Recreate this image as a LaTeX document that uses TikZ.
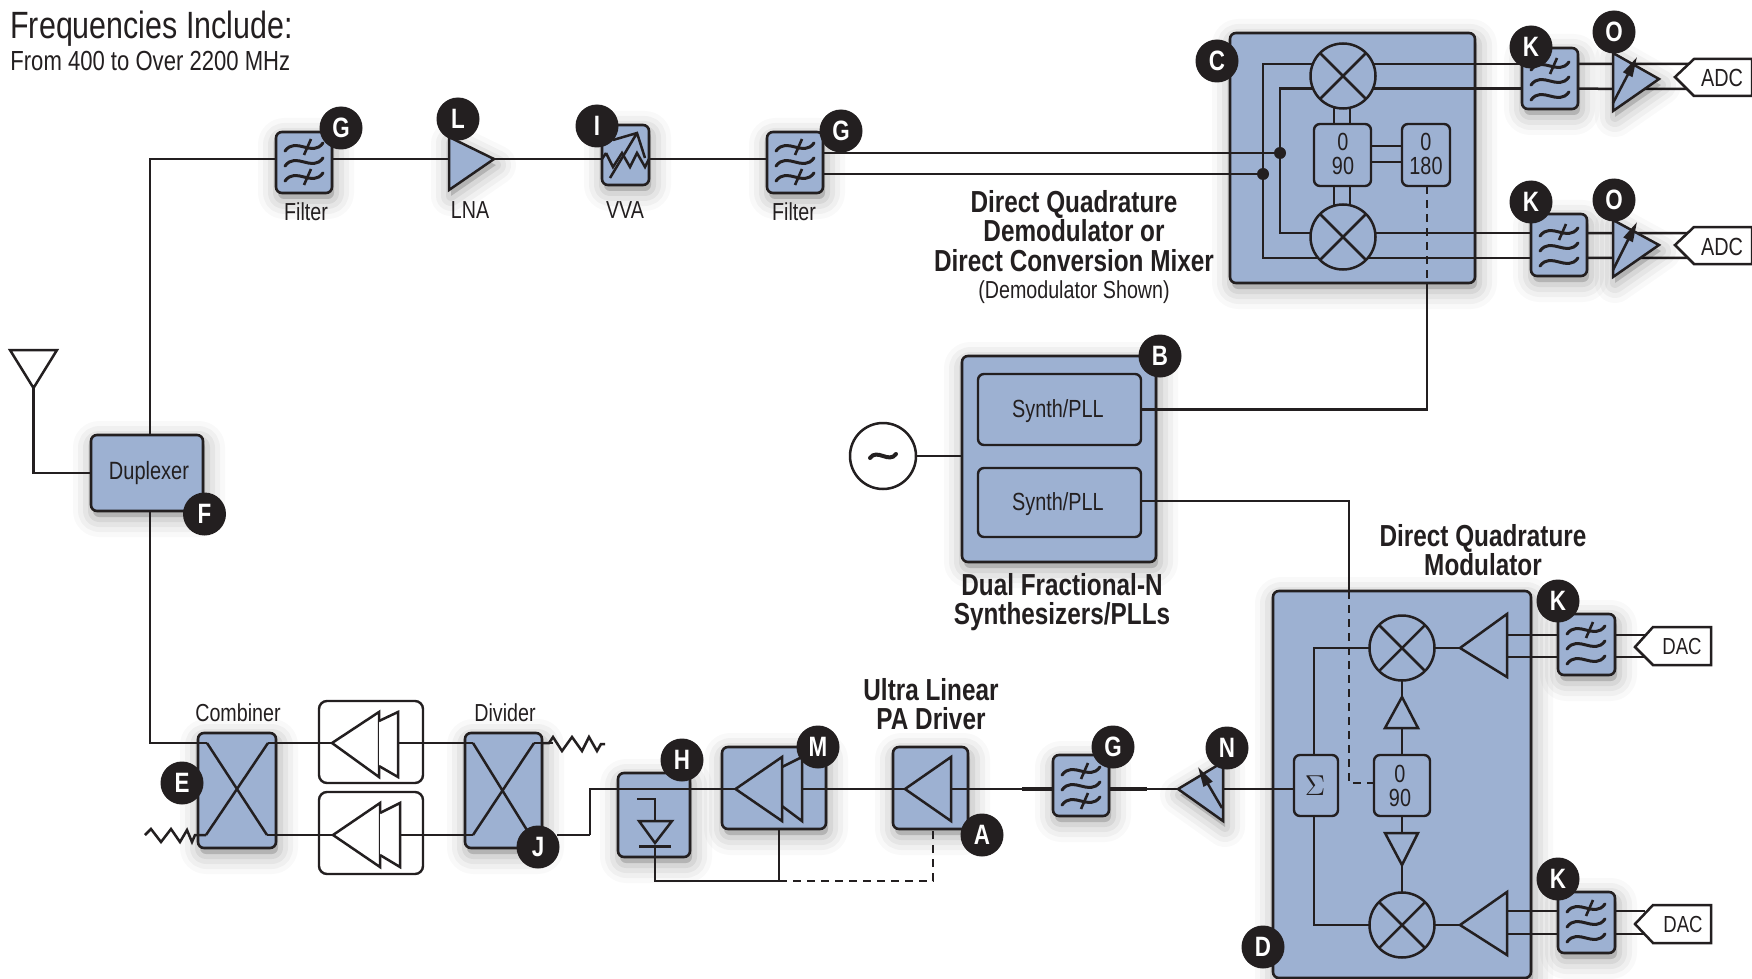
\documentclass[tikz,border=0pt]{standalone}
\usepackage{fontspec}
\usepackage{amsmath}
\setmainfont[FakeStretch=0.8]{Liberation Sans}
\usetikzlibrary{arrows.meta,calc}
\definecolor{ink}{HTML}{231F20}
\definecolor{blu}{HTML}{9DB1D2}
\tikzset{
  wire/.style={draw=ink,line width=1.25pt,line join=miter},
  dashwire/.style={wire,dash pattern=on 4pt off 3pt},
  shad/.style={
    preaction={draw=black,fill=black,line join=round,opacity=.025,line width=20pt,transform canvas={shift={(1pt,-3pt)}}},
    preaction={draw=black,fill=black,line join=round,opacity=.035,line width=15pt,transform canvas={shift={(1pt,-3pt)}}},
    preaction={draw=black,fill=black,line join=round,opacity=.045,line width=10pt,transform canvas={shift={(1pt,-3pt)}}},
    preaction={draw=black,fill=black,line join=round,opacity=.06,line width=5pt,transform canvas={shift={(1pt,-3pt)}}}},
  bbox/.style={rectangle,rounded corners=3pt,draw=ink,line width=1.3pt,fill=blu,inner sep=0pt,outer sep=0pt,shad},
  inbox/.style={rectangle,rounded corners=3pt,draw=ink,line width=1.2pt,fill=blu,inner sep=0pt,outer sep=0pt},
  wbox/.style={rectangle,rounded corners=4pt,draw=ink,line width=1.2pt,fill=white,inner sep=0pt,outer sep=0pt},
  badge/.style={circle,fill=ink,text=white,inner sep=0pt,minimum size=21.5pt,font=\fontsize{14}{14}\selectfont\bfseries},
  mix/.style={circle,draw=ink,line width=1.25pt,fill=blu,inner sep=0pt,outer sep=0pt,minimum size=32.5pt},
  dotn/.style={circle,fill=ink,inner sep=0pt,minimum size=6pt},
  lab/.style={text=ink,inner sep=0pt,font=\fontsize{12.3}{13}\selectfont,align=center},
  inlab/.style={text=ink,inner sep=0pt,font=\fontsize{12.4}{11.9}\selectfont,align=center},
  bold/.style={text=ink,inner sep=0pt,font=\fontsize{15.2}{14.7}\selectfont\bfseries,align=center},
  tri/.style={draw=ink,line width=1.25pt,line join=miter,fill=blu},
  triS/.style={tri,shad},
  twhite/.style={draw=ink,line width=1.25pt,line join=miter,fill=white},
  sym/.style={draw=ink,line width=1.25pt,fill=none,line join=miter},
  arr/.style={sym,-{Stealth[inset=0pt,length=10pt,width=5pt]}},
}
\newcommand{\bx}[6]{%
  \pgfmathsetmacro\cxx{(#3+#5)/2}\pgfmathsetmacro\cyy{(#4+#6)/2}%
  \pgfmathsetmacro\wdd{(#5-#3)*.5}\pgfmathsetmacro\htt{(#6-#4)*.5}%
  \node[#2,minimum width=\wdd pt,minimum height=\htt pt] (#1) at (\cxx,\cyy) {};}
\newcommand{\mixer}[3]{%
  \node[mix] (#1) at (#2,#3) {};
  \draw[sym] (#1.45)--(#1.225) (#1.135)--(#1.-45);}
\newcommand{\oneWave}[1]{%
  \draw[sym,line width=1.5pt,line cap=round] (-19,#1+4) .. controls (-8,#1-11) and (8,#1+11) .. (19,#1-4);}
\newcommand{\tick}[1]{%
  \draw[sym,line width=1.3pt] (0,#1+8) -- (7,#1-8);}
\newcommand{\filtK}[2]{\begin{scope}[shift={(#1,#2)}]
  \oneWave{-15}\oneWave{0}\oneWave{15}\tick{-15}\end{scope}}
\newcommand{\filtG}[2]{\begin{scope}[shift={(#1,#2)}]
  \oneWave{-15}\oneWave{0}\oneWave{15}\tick{-15}\tick{15}\end{scope}}
\begin{document}
\begin{tikzpicture}[x=0.5pt,y=-0.5pt]
\path[use as bounding box,fill=white] (0,0) rectangle (1752,979);

% ---- large boxes
\bx{demod}{bbox}{1230}{33}{1475}{283}
\bx{moda}{bbox}{1273}{591}{1531}{978}
\bx{synth}{bbox}{962}{356}{1156}{562}
\bx{dup}{bbox}{91}{435}{203}{511}
\bx{combiner}{bbox}{198}{733}{276}{848}
\bx{divider}{bbox}{465}{733}{542}{848}
\bx{hbox}{bbox}{618}{773}{690}{857}
\bx{mbox}{bbox}{722}{747}{826}{829}
\bx{abox}{bbox}{893}{747}{968}{829}
\bx{fg1}{bbox}{276}{132}{332}{193}
\bx{vva}{bbox}{602}{125}{649}{185}
\bx{fg2}{bbox}{767}{132}{823}{193}
\bx{fg3}{bbox}{1053}{755}{1109}{816}
\bx{fk1}{bbox}{1522}{48}{1578}{109}
\bx{fk2}{bbox}{1531}{214}{1587}{276}
\bx{fk3}{bbox}{1558}{614}{1615}{675}
\bx{fk4}{bbox}{1558}{892}{1615}{953}
\bx{ampA}{wbox}{319}{701}{423}{783}
\bx{ampB}{wbox}{319}{792}{423}{874}

% ---- inner boxes
\bx{s1}{inbox}{978}{374}{1141}{445}
\bx{s2}{inbox}{978}{468}{1141}{537}
\node[inlab] (s1t) at (1058,411) {Synth/PLL};
\node[inlab] (s2t) at (1058,504) {Synth/PLL};
\node[inlab,font=\fontsize{12.5}{13}\selectfont] (dupt) at (149,473) {Duplexer};

% ---- coordinates of free ends
\coordinate (antA) at (10,350);
\coordinate (antB) at (57,350);
\coordinate (antC) at (33.5,388);
\coordinate (dupX) at (150,473);
\coordinate (topC) at (150,159);
\coordinate (lowC) at (150,743);
\coordinate (rowT) at (0,159);
\coordinate (rowC) at (0,743);
\coordinate (rowD) at (0,835);
\coordinate (jog) at (590,835);

% ---- antenna and duplexer wiring
\draw[wire] (antA)--(antB)--(antC)--cycle;
\draw[wire] (antC) |- (dup.west);
\draw[wire] (dup.north -| dupX) -- (topC) -- (fg1.west |- rowT);
\draw[wire] (dup.south -| dupX) -- (lowC) -- (combiner.west |- rowC);

% ---- receive row
\coordinate (lnab) at (449,159);
\filldraw[triS] (494,159) coordinate (lnatip) -- (449,137) -- (449,190) -- cycle;
\draw[wire] (fg1.east |- rowT) -- (lnab);
\draw[wire] (lnatip) -- (vva.west |- rowT);
\draw[wire] (vva.east |- rowT) -- (fg2.west |- rowT);
\filtG{304}{162}\filtG{795}{162}
\draw[sym] (606,153)--(613,167)--(622,153)--(630,167)--(637,153)--(645,167)--(649,159) (602,159)--(606,153);
\draw[sym] (610,178)--(637,133) (613,140)--(637,133)--(645,158);

% ---- demodulator
\mixer{mix1}{1343}{76}
\mixer{mix2}{1343}{237}
\bx{q1}{inbox}{1314}{124}{1371}{186}
\bx{q2}{inbox}{1402}{124}{1450}{186}
\node[inlab] (q1t) at (1343,154) {0\\90};
\node[inlab] (q2t) at (1426,154) {0\\180};
\node[dotn] (dO) at (1263,174) {};
\node[dotn] (dI) at (1280,153) {};
\draw[wire] (fg2.east |- dI) -- (dI);
\draw[wire] (fg2.east |- dO) -- (dO);
\draw[wire] (mix1.158) -- (dO |- mix1.158) -- (dO |- mix2.-140) -- (mix2.-140);
\draw[wire] (mix1.-157) -- (dI |- mix1.-157) -- (dI |- mix2.173) -- (mix2.173);
\coordinate (v1) at (1334,0);
\coordinate (v2) at (1350,0);
\draw[wire] (v1 |- 0,107) -- (v1 |- q1.north) (v2 |- 0,107) -- (v2 |- q1.north);
\draw[wire] (v1 |- q1.south) -- (v1 |- 0,206) (v2 |- q1.south) -- (v2 |- 0,206);
\coordinate (h1) at (0,146);
\coordinate (h2) at (0,162);
\draw[wire] (q1.east |- h1) -- (q2.west |- h1) (q1.east |- h2) -- (q2.west |- h2);
% outputs
\draw[wire] (mix1.22) -- (fk1.west |- mix1.22);
\draw[wire] (mix1.-23) -- (fk1.west |- mix1.-23);
\draw[wire] (mix2.7) -- (fk2.west |- mix2.7);
\draw[wire] (mix2.-40) -- (fk2.west |- mix2.-40);
\coordinate (lo) at (1427,0);
\draw[dashwire] (q2.south -| lo) -- (demod.south -| lo);
\draw[wire] (demod.south -| lo) |- (s1.east);
\filtK{1550}{81}\filtK{1559}{247}

% VGAs and ADC tags
\draw[wire] (fk1.east |- mix1.22) -- (1691,64);
\draw[wire] (fk1.east |- mix1.-23) -- (1691,89);
\draw[wire] (fk2.east |- mix2.7) -- (1691,233);
\draw[wire] (fk2.east |- mix2.-40) -- (1691,258);
\filldraw[triS] (1659,79) -- (1613,53) -- (1613,111) -- cycle;
\filldraw[triS] (1659,245) -- (1613,220) -- (1613,277) -- cycle;
\draw[arr] (1613,103) -- (1637,57);
\draw[arr] (1613,270) -- (1637,222);
\draw[sym,fill=white] (1675,77) coordinate (tg1) -- (1694,59) -- (1752,59) -- (1752,96) -- (1694,96) -- cycle;
\draw[sym,fill=white] (1675,245) coordinate (tg2) -- (1694,227) -- (1752,227) -- (1752,264) -- (1694,264) -- cycle;
\node[inlab] (adc1) at (1722,78) {ADC};
\node[inlab] (adc2) at (1722,247) {ADC};

% ---- oscillator and synth
\node[circle,draw=ink,line width=1.25pt,fill=white,inner sep=0pt,minimum size=33pt] (osc) at (883,456) {};
\draw[draw=ink,line width=2pt,fill=none,line cap=round] (870,458) .. controls (877,448) and (889,464) .. (896,454);
\draw[wire] (osc.east) -- (synth.west |- osc.east);
\coordinate (lo2) at (1349,0);
\draw[wire] (s2.east |- 0,501) -- (lo2 |- 0,501) -- (lo2 |- moda.north);

% ---- modulator
\mixer{mx3}{1402}{648}
\mixer{mx4}{1402}{925}
\bx{sig}{inbox}{1294}{755}{1338}{816}
\bx{q3}{inbox}{1374}{755}{1430}{816}
\node[inner sep=0pt,text=ink,font=\fontsize{14}{14}\selectfont] (sigt) at (1315,786) {$\Sigma$};
\node[inlab] (q3t) at (1400,786) {0\\90};
\coordinate (sl) at (1314,0);
\draw[wire] (sl |- sig.north) -- (sl |- mx3.west) -- (mx3.west);
\draw[wire] (sl |- sig.south) -- (sl |- mx4.west) -- (mx4.west);
\filldraw[tri] (1460,648) coordinate (a3) -- (1507,614) -- (1507,677) -- cycle;
\filldraw[tri] (1460,925) coordinate (a4) -- (1507,892) -- (1507,955) -- cycle;
\draw[wire] (mx3.east) -- (a3);
\draw[wire] (mx4.east) -- (a4);
\coordinate (b3a) at (1507,635);\coordinate (b3b) at (1507,657);
\coordinate (b4a) at (1507,911);\coordinate (b4b) at (1507,934);
\draw[wire] (b3a) -- (fk3.west |- b3a) (b3b) -- (fk3.west |- b3b);
\draw[wire] (b4a) -- (fk4.west |- b4a) (b4b) -- (fk4.west |- b4b);
\filtK{1586}{645}\filtK{1586}{923}
\draw[wire] (fk3.east |- b3a) -- (1645,635) (fk3.east |- b3b) -- (1645,657);
\draw[wire] (fk4.east |- b4a) -- (1645,911) (fk4.east |- b4b) -- (1645,934);
\draw[sym,fill=white] (1635,647) coordinate (tg3) -- (1653,627) -- (1711,627) -- (1711,665) -- (1653,665) -- cycle;
\draw[sym,fill=white] (1635,924) coordinate (tg4) -- (1653,905) -- (1711,905) -- (1711,943) -- (1653,943) -- cycle;
\node[inlab,font=\fontsize{11.6}{12}\selectfont] (dac1) at (1682,647) {DAC};
\node[inlab,font=\fontsize{11.6}{12}\selectfont] (dac2) at (1683,925) {DAC};
\coordinate (up1) at (1402,697);
\coordinate (up2) at (1402,728);
\coordinate (dn1) at (1402,833);
\coordinate (dn2) at (1402,865);
\draw[wire] (mx3.south) -- (up1);
\draw[wire] (up2) -- (up2 |- q3.north);
\draw[wire] (dn1 |- q3.south) -- (dn1);
\draw[wire] (dn2) -- (mx4.north);
\filldraw[tri] (up1) -- (1418,728) -- (1385,728) -- cycle;
\filldraw[tri] (dn2) -- (1418,833) -- (1385,833) -- cycle;
\coordinate (dk) at (1349,783);
\draw[dashwire] (lo2 |- moda.north) -- (dk) -- (dk -| q3.west);

% ---- transmit row
\coordinate (nt) at (1178,789);
\coordinate (nb) at (1223,789);
\draw[wire] (nb) -- (sig.west |- nb);
\draw[wire] (fg3.east |- nb) -- (nt);
\draw[wire,line width=2.2pt] (fg3.east |- nb) -- (1147,789);
\draw[wire,line width=2.2pt] (1022,789) -- (fg3.west |- nb);
\filldraw[triS] (nt) -- (1223,762) -- (1223,821) -- cycle;
\draw[arr] (1222,808) -- (1198,767);
\filtG{1081}{786}
\coordinate (at) at (905,789);
\coordinate (ab) at (951,789);
\draw[wire] (ab) -- (fg3.west |- ab);
\draw[wire] (at) -- (abox.west |- at);
\draw[wire] (abox.west |- at) -- (802,789);
\filldraw[tri] (at) -- (951,757) -- (951,821) -- cycle;
\filldraw[tri] (735.5,789) coordinate (mt) -- (782,757) -- (782,821) -- cycle;
\draw[sym] (782,767) -- (802,757) -- (802,821) -- (782,806);
\draw[wire] (jog) -- (jog |- mt) -- (mt);
\draw[wire] (557,835) -- (jog);

% detector
\draw[sym] (637,799) -- (655,799) -- (655,821);
\draw[sym] (639,821) -- (672,821) -- (655,843) -- cycle;
\draw[sym,line width=1.5pt] (639,846) -- (671,846);
\coordinate (fbA) at (655,881);
\coordinate (fbB) at (779,881);
\coordinate (fbC) at (933,881);
\draw[wire] (655,846) -- (fbA) -- (fbB);
\draw[wire] (fbB) -- (fbB |- mbox.south);
\draw[dashwire] (fbB) -- (fbC) -- (fbC |- abox.south);

% combiner, amps, divider
\draw[sym] (207,743) -- (267,835) (268,743) -- (206,835);
\draw[sym] (473,743) -- (530,835) (534,743) -- (473,835);
\draw[wire] (combiner.west |- rowC) -- (207,743);
\draw[wire] (combiner.west |- rowD) -- (206,835);
\draw[wire] (268,743) -- (332,743);
\draw[wire] (267,835) -- (333,835);
\draw[twhite] (332,743) coordinate (ca) -- (379,712) -- (379,777) -- cycle;
\draw[twhite] (379,721) -- (398,712) -- (398,777) -- (379,766);
\draw[twhite] (333,835) coordinate (cb) -- (380,803) -- (380,867) -- cycle;
\draw[twhite] (380,813) -- (400,803) -- (400,867) -- (380,855);
\draw[wire] (398,743) -- (473,743);
\draw[wire] (400,835) -- (473,835);
\draw[wire] (534,743) -- (553,743);
\draw[sym] (542,743) -- (549,743) -- (553,737) -- (562,751) -- (572,737) -- (582,751) -- (589,737) -- (597,751) -- (601,744) -- (605,744);
\draw[sym] (145,835) -- (151,829) -- (161,842) -- (171,829) -- (180,842) -- (187,830) -- (192,842) -- (195,835) -- (206,835);

% ---- labels
\node[anchor=west,text=ink,inner sep=0pt,font=\fontsize{19}{19}\selectfont] (tt1) at (10,29) {Frequencies Include:};
\node[anchor=west,text=ink,inner sep=0pt,font=\fontsize{13.8}{14}\selectfont] (tt2) at (10,61) {From 400 to Over 2200 MHz};
\node[lab] (l1) at (306,212) {Filter};
\node[lab] (l2) at (470,210) {LNA};
\node[lab] (l3) at (625,210) {VVA};
\node[lab] (l4) at (794,212) {Filter};
\node[lab] (l5) at (238,713) {Combiner};
\node[lab] (l6) at (505,713) {Divider};
\node[bold] (b1) at (1074,231) {Direct Quadrature\\Demodulator or\\Direct Conversion Mixer};
\node[lab] (b1s) at (1074,292) {(Demodulator Shown)};
\node[bold] (b2) at (1062,602) {Dual Fractional-N\\Synthesizers/PLLs};
\node[bold] (b3) at (1483,550) {Direct Quadrature\\Modulator};
\node[bold] (b4) at (931,704) {Ultra Linear\\PA Driver};

% ---- badges
\node[badge] (bG1) at (341,128) {G};
\node[badge] (bL) at (458,119) {L};
\node[badge] (bI) at (597,126) {I};
\node[badge] (bG2) at (841,131) {G};
\node[badge] (bC) at (1217,61) {C};
\node[badge] (bK1) at (1531,47) {K};
\node[badge] (bO1) at (1614,32) {O};
\node[badge] (bK2) at (1531,202) {K};
\node[badge] (bO2) at (1614,200) {O};
\node[badge] (bB) at (1160,356) {B};
\node[badge] (bF) at (204.5,514) {F};
\node[badge] (bE) at (182,783) {E};
\node[badge] (bJ) at (538,847) {J};
\node[badge] (bH) at (682,760) {H};
\node[badge] (bM) at (818,747) {M};
\node[badge] (bA) at (982,835) {A};
\node[badge] (bG3) at (1113,747) {G};
\node[badge] (bN) at (1227,748) {N};
\node[badge] (bD) at (1263,947) {D};
\node[badge] (bK3) at (1558,601) {K};
\node[badge] (bK4) at (1558,879) {K};
\end{tikzpicture}
\end{document}
